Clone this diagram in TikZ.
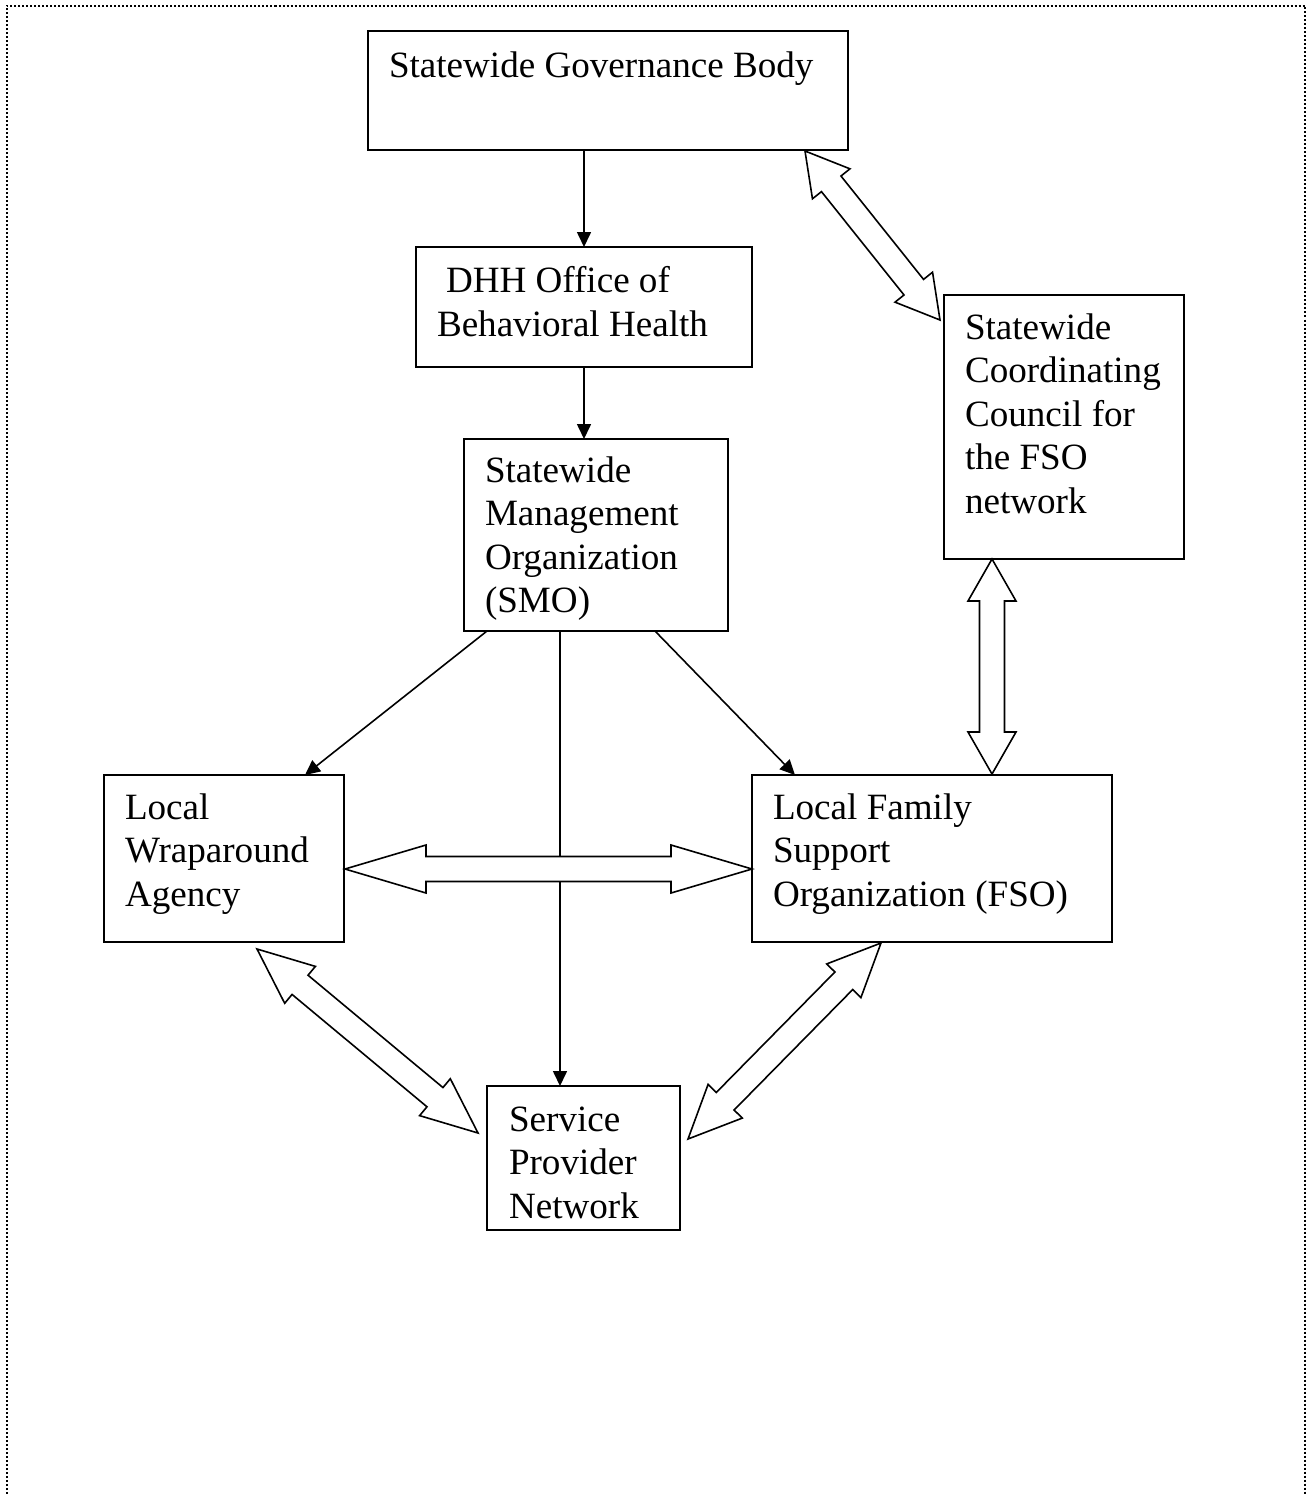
\documentclass[tikz,border=0pt]{standalone}
\usepackage{fontspec}
\setmainfont{Liberation Serif}
\usetikzlibrary{arrows.meta,calc}
\newcommand\dblarrow[3]{%
  \path ($(#1)!#3!(#2)$) coordinate (h1) ($(#2)!#3!(#1)$) coordinate (h2);
  \draw[barrow] (#1) -- ($(h1)!24pt!90:(#2)$) -- ($(h1)!12.5pt!90:(#2)$)
    -- ($(h2)!12.5pt!-90:(#1)$) -- ($(h2)!24pt!-90:(#1)$) -- (#2)
    -- ($(h2)!24pt!90:(#1)$) -- ($(h2)!12.5pt!90:(#1)$)
    -- ($(h1)!12.5pt!-90:(#2)$) -- ($(h1)!24pt!-90:(#2)$) -- cycle;}
\begin{document}
\begin{tikzpicture}[x=1pt,y=-1pt,
  box/.style={draw,line width=1.9pt,inner sep=0pt,outer sep=0pt,anchor=north west},
  lbl/.style={inner sep=0pt,outer sep=0pt,anchor=base west,align=left,font=\fontsize{37.1}{43.4}\selectfont},
  arr/.style={line width=1.6pt,-{Triangle[length=15pt,width=14pt]}},
  barrow/.style={line width=1.6pt,line join=miter,fill=white}]
\useasboundingbox (0,0) rectangle (1307,1494);
\draw[line width=2pt,dash pattern=on 2pt off 2pt] (6.5,1494) -- (6.5,6) -- (1305,6) -- (1305,1494);

% boxes
\node[box,minimum width=480pt,minimum height=119pt] (gov) at (368,31) {};
\node[box,minimum width=336pt,minimum height=120pt] (dhh) at (416,247) {};
\node[box,minimum width=264pt,minimum height=192pt] (smo) at (464,439) {};
\node[box,minimum width=240pt,minimum height=264pt] (scc) at (944,295) {};
\node[box,minimum width=240pt,minimum height=167pt] (lwa) at (104,775) {};
\node[box,minimum width=360pt,minimum height=167pt] (fso) at (752,775) {};
\node[box,minimum width=193pt,minimum height=144pt] (spn) at (487,1086) {};

% texts (anchor = baseline of last line)
\node[lbl] (govt) at (389,77) {Statewide Governance Body};
\node[lbl] (dhht) at (437,336) {\hspace{9pt}DHH Office of\\Behavioral Health};
\node[lbl] (smot) at (485,612.5) {Statewide\\Management\\Organization\\(SMO)};
\node[lbl] (scct) at (965,513) {Statewide\\Coordinating\\Council for\\the FSO\\network};
\node[lbl] (lwat) at (125,906) {Local\\Wraparound\\Agency};
\node[lbl] (fsot) at (773,906) {Local Family\\Support\\Organization (FSO)};
\node[lbl] (spnt) at (509,1218) {Service\\Provider\\Network};

% plain arrows
\draw[arr] (dhh.north |- gov.south) -- (dhh.north);
\draw[arr] (dhh.south) -- (dhh.south |- smo.north);
\coordinate (smoL) at ($(smo.south west)+(23,0)$);
\coordinate (lwaT) at ($(lwa.north west)+(201,0)$);
\draw[arr] (smoL) -- (lwaT);
\coordinate (smoR) at ($(smo.south west)+(191,0)$);
\coordinate (fsoT) at ($(fso.north west)+(43,0)$);
\draw[arr] (smoR) -- (fsoT);
\coordinate (smoM) at ($(smo.south west)+(96,0)$);
\draw[arr] (smoM) -- (smoM |- spn.north);

% block double arrows
\coordinate (a1) at (805,151);  \coordinate (b1) at (940,320);
\dblarrow{a1}{b1}{42pt}
\coordinate (a2) at (992,559);  \coordinate (b2) at (992,774);
\dblarrow{a2}{b2}{42pt}
\coordinate (a3) at (345,869);  \coordinate (b3) at (752,869);
\dblarrow{a3}{b3}{81pt}
\coordinate (a4) at (257,949);  \coordinate (b4) at (478,1133);
\dblarrow{a4}{b4}{56pt}
\coordinate (a5) at (881,943);  \coordinate (b5) at (688,1139);
\dblarrow{a5}{b5}{53pt}
\end{tikzpicture}
\end{document}
